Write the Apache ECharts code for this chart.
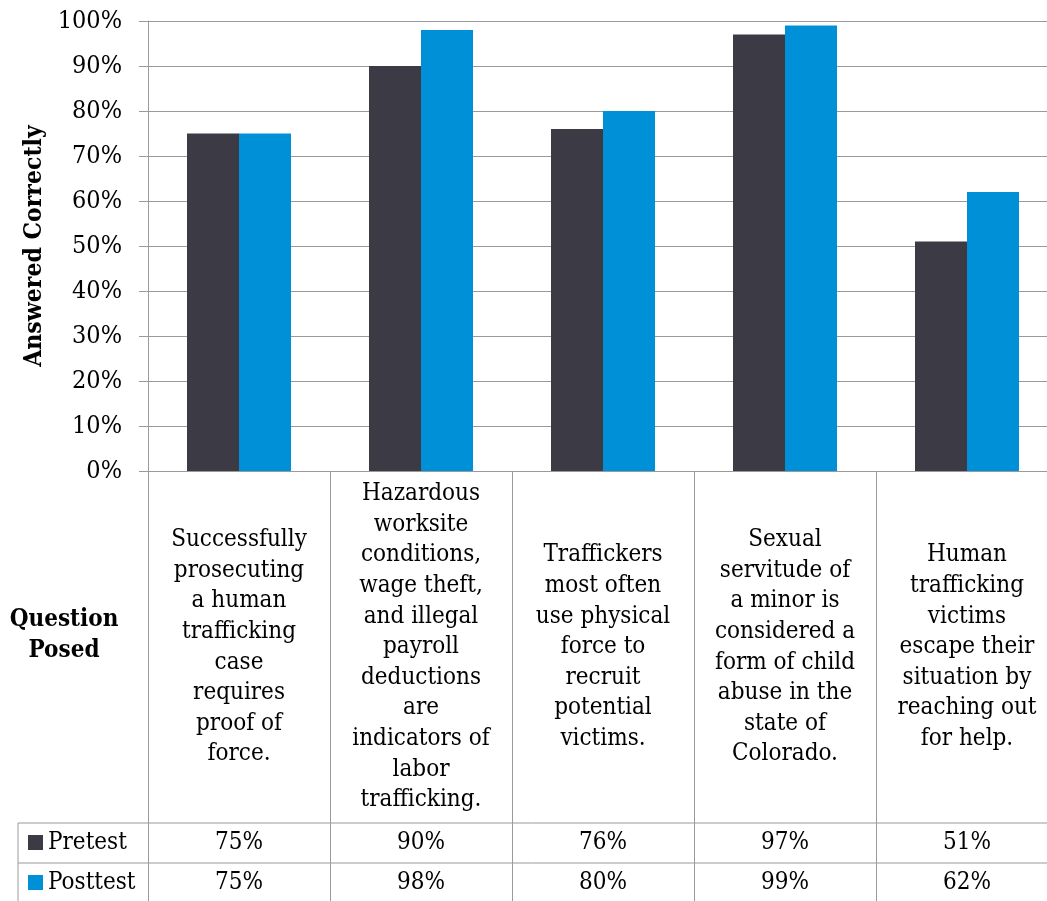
<!DOCTYPE html>
<html>
<head>
<meta charset="utf-8">
<script src="https://cdn.jsdelivr.net/npm/echarts@6/dist/echarts.min.js"></script>
<style>
  html, body { margin: 0; padding: 0; background: #fff; }
  #chart { width: 1047px; height: 901px; }
</style>
</head>
<body>
<div id="chart"></div>
<script>
// Survey questions (shown in the data table under each bar pair)
const questions = [
  'Successfully\nprosecuting\na human\ntrafficking\ncase\nrequires\nproof of\nforce.',
  'Hazardous\nworksite\nconditions,\nwage theft,\nand illegal\npayroll\ndeductions\nare\nindicators of\nlabor\ntrafficking.',
  'Traffickers\nmost often\nuse physical\nforce to\nrecruit\npotential\nvictims.',
  'Sexual\nservitude of\na minor is\nconsidered a\nform of child\nabuse in the\nstate of\nColorado.',
  'Human\ntrafficking\nvictims\nescape their\nsituation by\nreaching out\nfor help.'
];
const seriesNames = ['Pretest', 'Posttest'];
const pretest = [75, 90, 76, 97, 51];
const posttest = [75, 98, 80, 99, 62];
const yTicks = { min: 0, max: 100, step: 10 };

const FONT = '"DejaVu Serif Condensed", "DejaVu Serif", serif';
const FS = 24;
const LINE = '#9a9a9a';
const COLORS = ['#3c3b45', '#0090d8'];

const chart = echarts.init(document.getElementById('chart'), null, { renderer: 'canvas' });

const gridTop = 21, gridBottom = 430;   // plot area spans y 21..471
const axisY = 901 - gridBottom;         // 471
const rowTop = 823, rowMid = 863;        // data-table row borders
const rowCenters = [843, 883];

// value-row axis: shows one series' numbers in the table under each category
function valueRow(values, centerY) {
  return {
    type: 'category',
    gridIndex: 0,
    position: 'bottom',
    data: questions,
    offset: centerY - axisY,
    axisLine: { show: false },
    axisTick: { show: false },
    axisLabel: {
      interval: 0,
      margin: 0,
      verticalAlign: 'middle',
      fontFamily: FONT, fontSize: FS, color: '#000',
      formatter: (v, i) => values[i] + '%'
    }
  };
}

// legend keys drawn inside the table's first column
const legendGraphics = [];
seriesNames.forEach((name, i) => {
  legendGraphics.push({
    type: 'rect',
    shape: { x: 28, y: rowCenters[i] - 8, width: 15, height: 15 },
    style: { fill: COLORS[i] }
  });
  legendGraphics.push({
    type: 'text',
    x: 48, y: rowCenters[i],
    style: { text: name, fill: '#000', font: FS + 'px ' + FONT, textAlign: 'left', textVerticalAlign: 'middle' }
  });
});

chart.setOption({
  backgroundColor: '#fff',
  animation: false,
  grid: {
    left: 148, top: gridTop, width: 910, bottom: gridBottom,
    containLabel: false, outerBoundsMode: 'none'
  },
  xAxis: [
    {
      type: 'category',
      data: questions,
      axisLine: { show: true, lineStyle: { color: LINE, width: 1 } },
      axisTick: { show: true, alignWithLabel: false, length: 440, lineStyle: { color: LINE, width: 1 } },
      axisLabel: {
        interval: 0,
        margin: 647 - 471,
        verticalAlign: 'middle',
        align: 'center',
        fontFamily: FONT, fontSize: FS, lineHeight: 30.6, color: '#000'
      }
    },
    valueRow(pretest, rowCenters[0]),
    valueRow(posttest, rowCenters[1])
  ],
  yAxis: {
    type: 'value',
    min: yTicks.min, max: yTicks.max, interval: yTicks.step,
    name: 'Answered Correctly',
    nameLocation: 'middle',
    nameRotate: 90,
    nameGap: 97,
    nameTextStyle: { fontFamily: FONT, fontSize: 24.5, fontWeight: 'bold', color: '#000' },
    axisLine: { show: true, lineStyle: { color: LINE, width: 1 } },
    axisTick: { show: true, length: 9, lineStyle: { color: LINE, width: 1 } },
    axisLabel: {
      margin: 26,
      fontFamily: FONT, fontSize: 25, color: '#000',
      formatter: '{value}%'
    },
    splitLine: { show: true, lineStyle: { color: LINE, width: 1 } }
  },
  series: [
    { name: seriesNames[0], type: 'bar', data: pretest, barWidth: 52, barGap: '0%',
      itemStyle: { color: COLORS[0] } },
    { name: seriesNames[1], type: 'bar', data: posttest, barWidth: 52, barGap: '0%',
      itemStyle: { color: COLORS[1] } }
  ],
  graphic: [
    // data-table row borders and left edge of the legend column
    { type: 'line', shape: { x1: 18, y1: rowTop, x2: 1047, y2: rowTop }, style: { stroke: LINE, lineWidth: 1 } },
    { type: 'line', shape: { x1: 18, y1: rowMid, x2: 1047, y2: rowMid }, style: { stroke: LINE, lineWidth: 1 } },
    { type: 'line', shape: { x1: 18, y1: rowTop, x2: 18, y2: 901 }, style: { stroke: LINE, lineWidth: 1 } },
    {
      type: 'text', x: 64, y: 635,
      style: {
        text: 'Question\nPosed', fill: '#000', textAlign: 'center', textVerticalAlign: 'middle',
        font: 'bold 24px ' + FONT, lineHeight: 31
      }
    }
  ].concat(legendGraphics)
});
</script>
</body>
</html>
